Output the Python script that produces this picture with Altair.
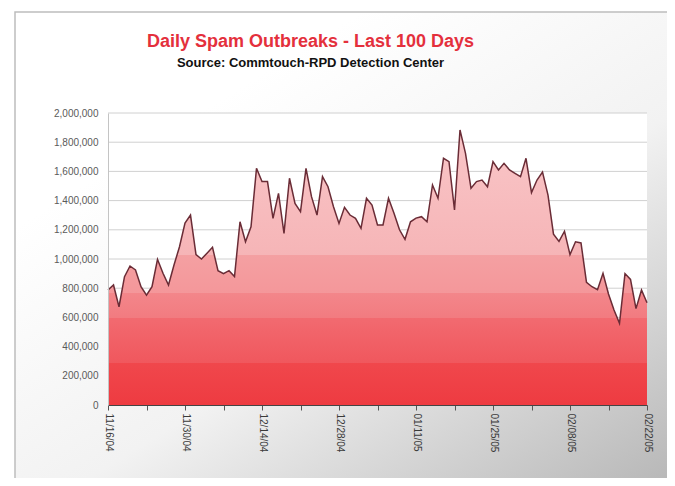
import json
import altair as alt
import pandas as pd

# ---- data ----
start_date = "2004-11-16"
spam_per_day = [
    788000, 822000, 673000, 879000, 952000, 925000, 810000, 753000, 810000, 998000,
    902000, 822000, 959000, 1084000, 1246000, 1301000, 1030000, 1000000, 1040000, 1080000,
    920000, 900000, 920000, 880000, 1255000, 1118000, 1221000, 1621000, 1530000, 1530000,
    1279000, 1450000, 1176000, 1553000, 1380000, 1324000, 1621000, 1427000, 1301000, 1564000,
    1495000, 1358000, 1244000, 1354000, 1301000, 1279000, 1210000, 1416000, 1370000, 1233000,
    1233000, 1416000, 1313000, 1200000, 1135000, 1255000, 1280000, 1290000, 1255000, 1507000,
    1416000, 1690000, 1667000, 1336000, 1884000, 1724000, 1484000, 1530000, 1541000, 1495000,
    1667000, 1610000, 1655000, 1610000, 1587000, 1564000, 1690000, 1455000, 1541000, 1595000,
    1438000, 1170000, 1120000, 1190000, 1030000, 1118000, 1110000, 840000, 810000, 790000,
    902000, 760000, 650000, 560000, 900000, 860000, 660000, 788000, 700000,
]
tick_labels = ["11/16/04", "11/30/04", "12/14/04", "12/28/04",
               "01/11/05", "01/25/05", "02/08/05", "02/22/05"]
y_ticks = list(range(0, 2000001, 200000))
band_edges = [285000, 594000, 765000, 1027000]

dates = pd.date_range(start_date, periods=len(spam_per_day), freq="D")
df = pd.DataFrame({"date": dates.strftime("%Y-%m-%dT00:00:00"), "spam": spam_per_day})
grid_df = pd.DataFrame({"tick": y_ticks})
one_df = pd.DataFrame({"k": [0]})

week_ticks = pd.date_range(start_date, dates[-1], freq="7D")
week_values = [alt.DateTime(year=d.year, month=d.month, date=d.day) for d in week_ticks]
dom = [alt.DateTime(year=dates[0].year, month=dates[0].month, date=dates[0].day),
       alt.DateTime(year=dates[-1].year, month=dates[-1].month, date=dates[-1].day)]

# banded fill (gradient with hard stops, relative to the area's bounding box)
vmax = max(spam_per_day)
band_cols = [("#ee3b41", "#f0474c"), ("#f0575d", "#f26a70"), ("#f27b80", "#f3868a"),
             ("#f4979a", "#f4a0a2"), ("#f6b5b7", "#f9c6c8")]
edges = [0.0] + [e / vmax for e in band_edges] + [1.0]
stops = []
for i, (c0, c1) in enumerate(band_cols):
    stops.append(alt.GradientStop(offset=edges[i], color=c0))
    stops.append(alt.GradientStop(offset=edges[i + 1], color=c1))
grad = alt.LinearGradient(gradient="linear", stops=stops, x1=0, x2=0, y1=1, y2=0)

bg_grad = alt.LinearGradient(
    gradient="linear", x1=0.3, y1=0.2, x2=1, y2=1,
    stops=[alt.GradientStop(offset=0, color="#ffffff"),
           alt.GradientStop(offset=0.45, color="#f2f2f2"),
           alt.GradientStop(offset=1, color="#b8b8b8")])

label_expr = ("indexof(" + json.dumps(tick_labels) +
              ", timeFormat(datum.value, '%m/%d/%y')) >= 0 ? timeFormat(datum.value, '%m/%d/%y') : ''")

x_scale = alt.Scale(domain=dom, nice=False, padding=0)
x_axis = alt.Axis(values=week_values, labelExpr=label_expr, labelAngle=90,
                  title=None, grid=False, domainColor="#444444", tickColor="#555555",
                  tickSize=5, labelColor="#3a3a3a", labelFontSize=10,
                  labelFont="Liberation Sans", labelPadding=3, labelOverlap=False, zindex=2)
y_scale = alt.Scale(domain=[0, 2000000], nice=False)
y_axis = alt.Axis(values=y_ticks, format=",.0f", title=None, grid=False, ticks=False,
                  domainColor="#c4c4c4", labelColor="#5a5a5a", labelFontSize=10,
                  labelFont="Liberation Sans", labelPadding=10, labelOverlap=False, zindex=2)

x = alt.X("date:T", scale=x_scale, axis=x_axis)
y = alt.Y("spam:Q", scale=y_scale, axis=y_axis)

# decorative chart frame with soft grey shading (bottom-right), white plot area on top
frame = alt.Chart(one_df).mark_rect(fill=bg_grad, stroke="#bdbdbd", strokeWidth=1.5).encode(
    x=alt.value(-93), x2=alt.value(561), y=alt.value(-101), y2=alt.value(366))
plot_bg = alt.Chart(one_df).mark_rect(fill="white").encode(
    x=alt.value(0), x2=alt.value("width"), y=alt.value(0), y2=alt.value("height"))
grid = alt.Chart(grid_df).mark_rule(color="#d0d0d0", strokeWidth=1).encode(
    y=alt.Y("tick:Q", scale=y_scale, axis=y_axis))
area = alt.Chart(df).mark_area(color=grad, opacity=1).encode(x=x, y=y)
line = alt.Chart(df).mark_line(color="#6a2c36", strokeWidth=1.5).encode(x=x, y=y)

chart = alt.layer(frame, plot_bg, grid, area, line).properties(
    width=539, height=292,
    autosize=alt.AutoSizeParams(type="none"),
    padding={"left": 100, "top": 105, "right": 20, "bottom": 73},
    background="white",
    title=alt.TitleParams(
        text="Daily Spam Outbreaks - Last 100 Days",
        subtitle="Source: Commtouch-RPD Detection Center",
        font="Liberation Sans", fontSize=18, fontWeight="bold", color="#e4303c",
        subtitleFont="Liberation Sans", subtitleFontSize=13, subtitleFontWeight="bold",
        subtitleColor="#111111", subtitlePadding=6, anchor="middle", frame="group",
        dx=-67, offset=-58.5, zindex=3),
).configure_view(stroke=None)

chart.save("out.html", embed_options={"renderer": "svg", "actions": False})
